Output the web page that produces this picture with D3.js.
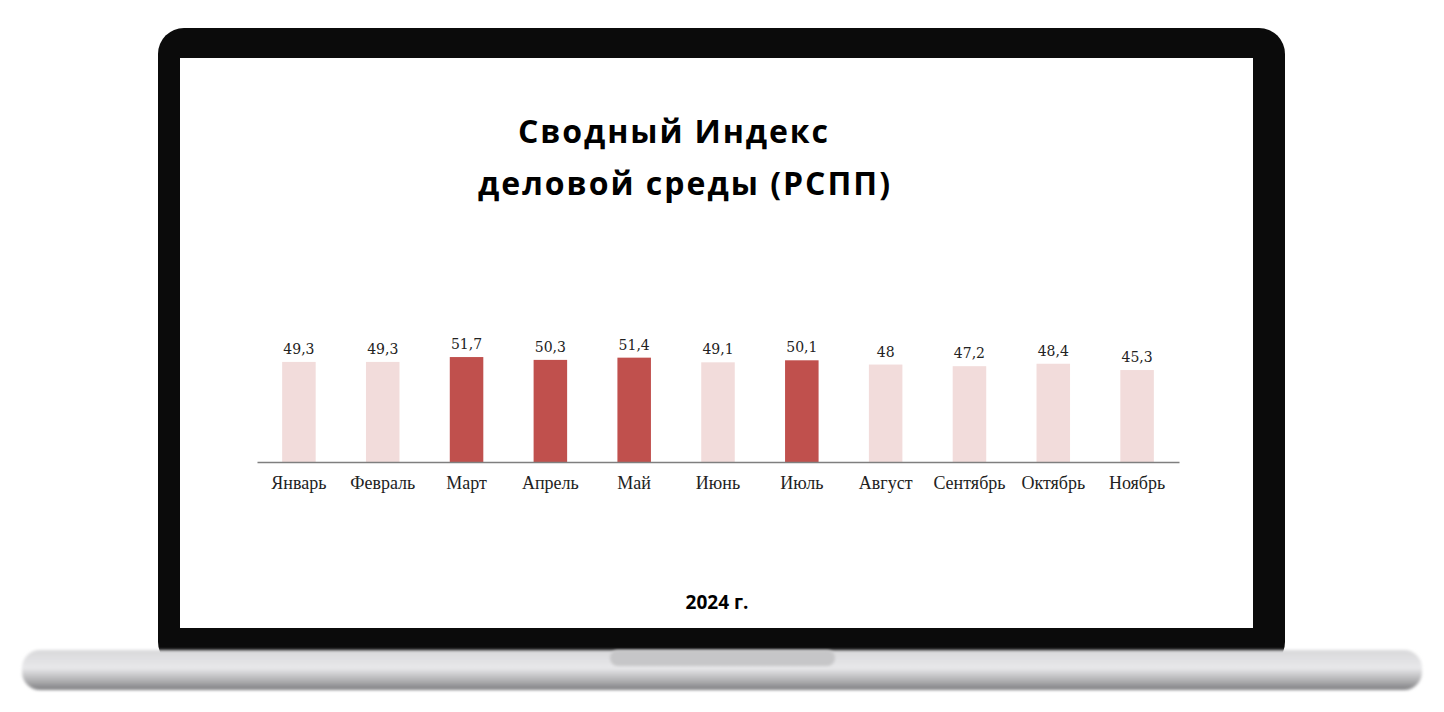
<!DOCTYPE html>
<html><head><meta charset="utf-8">
<script src="https://cdn.jsdelivr.net/npm/d3@7"></script>
<style>body{margin:0;background:#fff}</style>
</head><body>
<script>
// chart data
const months = ["Январь","Февраль","Март","Апрель","Май","Июнь","Июль","Август","Сентябрь","Октябрь","Ноябрь"];
const values = [49.3,49.3,51.7,50.3,51.4,49.1,50.1,48,47.2,48.4,45.3];
const labels = ["49,3","49,3","51,7","50,3","51,4","49,1","50,1","48","47,2","48,4","45,3"];
const highlighted = [false,false,true,true,true,false,true,false,false,false,false];

const W = 1444, H = 712;
const svg = d3.select("body").append("svg").attr("width", W).attr("height", H);

// laptop frame
const defs = svg.append("defs");
const g1 = defs.append("linearGradient").attr("id","base").attr("x1",0).attr("y1",0).attr("x2",0).attr("y2",1);
g1.append("stop").attr("offset","0%").attr("stop-color","#d8d8da");
g1.append("stop").attr("offset","45%").attr("stop-color","#e8e8ea");
g1.append("stop").attr("offset","80%").attr("stop-color","#a9a9ab");
g1.append("stop").attr("offset","100%").attr("stop-color","#7d7d80");
const blur = defs.append("filter").attr("id","blur");
blur.append("feGaussianBlur").attr("stdDeviation",1.5);

svg.append("rect").attr("x",158).attr("y",28).attr("width",1127).attr("height",640)
  .attr("rx",26).attr("fill","#0b0b0b");
svg.append("rect").attr("x",22).attr("y",650).attr("width",1400).attr("height",40)
  .attr("rx",18).attr("fill","url(#base)").attr("filter","url(#blur)");
svg.append("rect").attr("x",610).attr("y",650).attr("width",225).attr("height",16)
  .attr("rx",8).attr("fill","#c6c6c8").attr("filter","url(#blur)");
svg.append("rect").attr("x",180).attr("y",58).attr("width",1073).attr("height",570).attr("fill","#fff");

// title
const title = svg.append("text").attr("text-anchor","middle")
  .style("font-family","'Open Sans', sans-serif").style("font-weight","bold").style("font-size","32px");
title.append("tspan").attr("x",673).attr("y",143).attr("textLength",310).text("Сводный Индекс");
title.append("tspan").attr("x",684).attr("y",195).attr("textLength",412).text("деловой среды (РСПП)");

svg.append("text").attr("x",717).attr("y",609).attr("text-anchor","middle")
  .style("font-family","'Open Sans', sans-serif").style("font-weight","bold").style("font-size","19px")
  .text("2024 г.");

// bars
const x = d3.scaleBand().domain(months).range([257, 1179]).paddingInner(0.6).paddingOuter(0.3);
const y = d3.scaleLinear().domain([0, 50]).range([462, 360.5]);

svg.selectAll(".bar").data(months).enter().append("rect")
  .attr("x", d => x(d)).attr("width", x.bandwidth())
  .attr("y", (d,i) => y(values[i])).attr("height", (d,i) => y(0) - y(values[i]))
  .attr("fill", (d,i) => highlighted[i] ? "#c0504d" : "#f2dcdb");

svg.selectAll(".val").data(months).enter().append("text")
  .attr("x", d => x(d) + x.bandwidth()/2).attr("y", (d,i) => y(values[i]) - 8)
  .attr("text-anchor","middle").style("font-family","'DejaVu Serif', serif").style("font-size","14px")
  .attr("fill","#222").text((d,i) => labels[i]);

const xAxis = svg.append("g").attr("transform","translate(0,462)")
  .call(d3.axisBottom(x).tickSize(0).tickPadding(14));
xAxis.select(".domain").attr("stroke","#7f7f7f").attr("stroke-width",1.5);
xAxis.selectAll("text").style("font-family","'Liberation Serif', serif").style("font-size","18px").attr("fill","#222");
</script>
</body></html>
